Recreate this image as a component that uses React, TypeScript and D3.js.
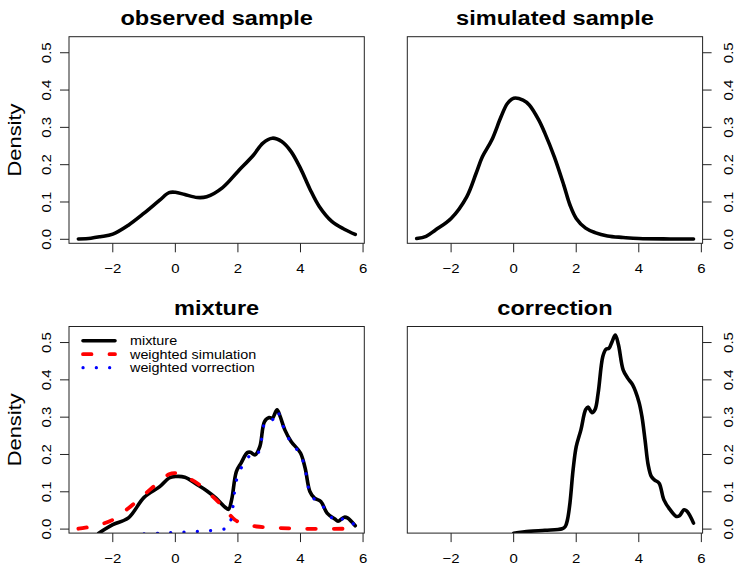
import * as d3 from 'd3';

// density curves, as [x, density]
const observedSample = [
  [-3.1, 0.001], [-2.7, 0.003], [-2.4, 0.007], [-2, 0.014], [-1.5, 0.038], [-1, 0.07],
  [-0.5, 0.105], [-0.2, 0.125], [0, 0.126], [0.3, 0.12], [0.7, 0.112], [1, 0.114],
  [1.5, 0.138], [2, 0.182], [2.5, 0.226], [2.8, 0.258], [3.1, 0.271], [3.4, 0.262],
  [3.7, 0.235], [4, 0.19], [4.3, 0.135], [4.6, 0.088], [5, 0.048], [5.4, 0.027], [5.75, 0.013],
];

const simulatedSample = [
  [-3.1, 0.002], [-2.8, 0.008], [-2.5, 0.025], [-2, 0.056], [-1.5, 0.114], [-1.2, 0.177],
  [-1, 0.221], [-0.7, 0.266], [-0.4, 0.329], [-0.2, 0.364], [0, 0.378], [0.3, 0.373],
  [0.5, 0.36], [0.8, 0.32], [1, 0.284], [1.3, 0.221], [1.6, 0.146], [1.8, 0.092],
  [2, 0.056], [2.3, 0.03], [2.6, 0.018], [3, 0.009], [3.5, 0.005], [4, 0.002], [5, 0.001], [5.75, 0.001],
];

const mixtureCurve = [
  [-2.45, -0.011], [-2, 0.012], [-1.5, 0.03], [-1, 0.085], [-0.5, 0.114], [-0.2, 0.137],
  [0, 0.141], [0.3, 0.139], [0.7, 0.119], [1, 0.103], [1.3, 0.083], [1.6, 0.058], [1.7, 0.053],
  [1.8, 0.079], [1.95, 0.154], [2.1, 0.177], [2.3, 0.205], [2.4, 0.206], [2.55, 0.199],
  [2.7, 0.221], [2.85, 0.288], [3, 0.299], [3.1, 0.297], [3.25, 0.32], [3.35, 0.302],
  [3.5, 0.266], [3.7, 0.235], [4, 0.204], [4.15, 0.163], [4.3, 0.101], [4.45, 0.083],
  [4.65, 0.074], [4.85, 0.043], [5.1, 0.027], [5.2, 0.021], [5.4, 0.032], [5.5, 0.03], [5.75, 0.009],
];

const weightedSimulation = [
  [-3.1, 0.001], [-2.5, 0.01], [-2, 0.025], [-1.5, 0.056], [-1, 0.092], [-0.5, 0.128],
  [-0.2, 0.147], [0, 0.15], [0.3, 0.141], [0.7, 0.123], [1, 0.101], [1.3, 0.079],
  [1.6, 0.052], [1.9, 0.025], [2.2, 0.014], [2.6, 0.007], [3, 0.0045], [4, 0.001], [5.35, 0.001],
];

const weightedCorrection = [
  [-1, -0.013], [-0.5, -0.011], [0, -0.009], [0.5, -0.007], [1, -0.005], [1.4, -0.002],
  [1.6, 0.001], [1.7, 0.005], [1.8, 0.035], [1.95, 0.13], [2.1, 0.163], [2.3, 0.19],
  [2.4, 0.196], [2.55, 0.192], [2.7, 0.215], [2.85, 0.283], [3, 0.295], [3.1, 0.293],
  [3.25, 0.317], [3.35, 0.3], [3.5, 0.264], [3.7, 0.232], [4, 0.2], [4.15, 0.16],
  [4.3, 0.098], [4.45, 0.08], [4.65, 0.072], [4.85, 0.041], [5.1, 0.025], [5.2, 0.019],
  [5.4, 0.03], [5.5, 0.029], [5.75, 0.008],
];

const correctionCurve = [
  [0, -0.011], [0.5, -0.006], [1, -0.003], [1.55, 0.001], [1.65, 0.007], [1.72, 0.025],
  [1.8, 0.07], [1.9, 0.159], [2, 0.221], [2.15, 0.266], [2.3, 0.32], [2.38, 0.327],
  [2.5, 0.312], [2.6, 0.32], [2.7, 0.364], [2.85, 0.4625], [2.95, 0.482], [3.05, 0.485],
  [3.15, 0.503], [3.25, 0.52], [3.35, 0.494], [3.5, 0.427], [3.65, 0.404], [3.8, 0.387],
  [4, 0.342], [4.1, 0.302], [4.2, 0.239], [4.3, 0.172], [4.4, 0.141], [4.5, 0.132],
  [4.65, 0.123], [4.8, 0.079], [5, 0.052], [5.2, 0.034], [5.3, 0.036], [5.45, 0.052],
  [5.55, 0.047], [5.75, 0.016],
];

const xTicks = [-2, 0, 2, 4, 6];
const xTickLabels = ['\u22122', '0', '2', '4', '6'];
const yTicks = [0, 0.1, 0.2, 0.3, 0.4, 0.5];
const yTickLabels = ['0.0', '0.1', '0.2', '0.3', '0.4', '0.5'];
const legendLabels = ['mixture', 'weighted simulation', 'weighted vorrection'];

const W = 735, H = 568;
const PW = 295.3, PH = 206.6;
const FONT = '"Liberation Sans", Arial, Helvetica, sans-serif';
const SX = 1.15; // glyphs in the picture run a bit wide

const STYLES = {
  solid: { stroke: '#000', width: 3.6, dash: undefined, cap: 'round' },
  dashed: { stroke: '#ff0000', width: 3.8, dash: '8.5,18', cap: 'round' },
  dotted: { stroke: '#0000ff', width: 3.2, dash: '0.1,13.2', cap: 'round' },
};

const panels = [
  { id: 'p1', title: 'observed sample', left: 69, top: 36.7, side: 'left', series: [{ data: observedSample, style: 'solid' }] },
  { id: 'p2', title: 'simulated sample', left: 407.3, top: 36.7, side: 'right', series: [{ data: simulatedSample, style: 'solid' }] },
  {
    id: 'p3', title: 'mixture', left: 69, top: 326.5, side: 'left', legend: true,
    series: [
      { data: mixtureCurve, style: 'solid' },
      { data: weightedSimulation, style: 'dashed' },
      { data: weightedCorrection, style: 'dotted' },
    ],
  },
  { id: 'p4', title: 'correction', left: 407.3, top: 326.5, side: 'right', series: [{ data: correctionCurve, style: 'solid' }] },
];

const SText = ({ x, y, size, children, bold = false, rotate = 0, anchor = 'middle', dy = '0' }: any) => (
  <g transform={`translate(${x},${y}) rotate(${rotate}) scale(${SX},1)`}>
    <text
      textAnchor={anchor}
      dy={dy}
      fontFamily={FONT}
      fontSize={size}
      fontWeight={bold ? 'bold' : 'normal'}
      fill="#000"
    >
      {children}
    </text>
  </g>
);

const Panel = ({ p }: any) => {
  const x = d3.scaleLinear().domain([-3.4, 6.04]).range([p.left, p.left + PW]);
  const y = d3.scaleLinear().domain([-0.0107, 0.543]).range([p.top + PH, p.top]);
  const line = d3.line<number[]>().x(d => x(d[0])).y(d => y(d[1])).curve(d3.curveCatmullRom.alpha(0.5));
  const bottom = p.top + PH;
  const right = p.left + PW;
  const axisX = p.side === 'left' ? p.left : right;
  const dir = p.side === 'left' ? -1 : 1;

  return (
    <g>
      <defs>
        <clipPath id={`clip-${p.id}`}>
          <rect x={p.left} y={p.top} width={PW} height={PH} />
        </clipPath>
      </defs>
      <SText x={(p.left + right) / 2} y={p.top - 12} size={20.5} bold>{p.title}</SText>

      <g clipPath={`url(#clip-${p.id})`}>
        {p.series.map((s: any, i: number) => {
          const st = (STYLES as any)[s.style];
          return (
            <path key={i} d={line(s.data) || ''} fill="none" stroke={st.stroke}
              strokeWidth={st.width} strokeDasharray={st.dash}
              strokeLinecap={st.cap} strokeLinejoin="round" />
          );
        })}
      </g>

      <rect x={p.left} y={p.top} width={PW} height={PH} fill="none" stroke="#222" strokeWidth={1} />

      {/* x axis */}
      {xTicks.map((t, i) => (
        <g key={`x${i}`}>
          <line x1={x(t)} x2={x(t)} y1={bottom} y2={bottom + 9} stroke="#222" />
          <SText x={x(t)} y={bottom + 25} size={13} dy="0.35em">{xTickLabels[i]}</SText>
        </g>
      ))}

      {/* y axis */}
      {yTicks.map((t, i) => (
        <g key={`y${i}`}>
          <line x1={axisX} x2={axisX + dir * 9} y1={y(t)} y2={y(t)} stroke="#222" />
          <SText x={axisX + dir * (p.side === 'left' ? 22.5 : 26)} y={y(t)} size={13} rotate={-90} dy="0.35em">
            {yTickLabels[i]}
          </SText>
        </g>
      ))}

      {p.side === 'left' && (
        <SText x={14} y={(p.top + bottom) / 2} size={19} rotate={-90} dy="0.35em">Density</SText>
      )}

      {p.legend && (
        <g>
          {(['solid', 'dashed', 'dotted'] as const).map((k, i) => {
            const st = STYLES[k];
            const ly = p.top + 14.2 + i * 13.5;
            return (
              <g key={k}>
                <line x1={p.left + 14} x2={p.left + 46} y1={ly} y2={ly} stroke={st.stroke}
                  strokeWidth={st.width} strokeDasharray={st.dash} strokeLinecap={st.cap} />
                <SText x={p.left + 61} y={ly} size={12.5} anchor="start" dy="0.35em">{legendLabels[i]}</SText>
              </g>
            );
          })}
        </g>
      )}
    </g>
  );
};

export default function App() {
  return (
    <svg width={W} height={H} style={{ position: 'absolute', left: 0, top: 0, background: '#fff' }}>
      <rect width={W} height={H} fill="#fff" />
      {panels.map(p => <Panel key={p.id} p={p} />)}
    </svg>
  );
}
